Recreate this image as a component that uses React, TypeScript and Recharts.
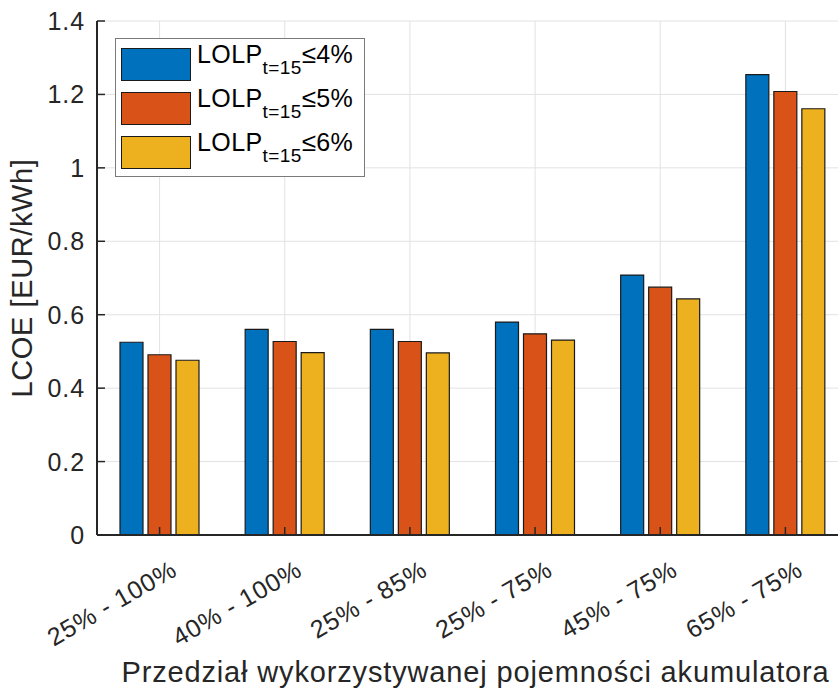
import { BarChart, Bar, XAxis, YAxis, CartesianGrid, Legend } from "recharts";

const categories = ["25% - 100%", "40% - 100%", "25% - 85%", "25% - 75%", "45% - 75%", "65% - 75%"];
const lolp4 = [0.525, 0.56, 0.56, 0.58, 0.708, 1.254];
const lolp5 = [0.491, 0.527, 0.527, 0.548, 0.675, 1.208];
const lolp6 = [0.476, 0.497, 0.496, 0.531, 0.643, 1.161];
const yTicks = [0, 0.2, 0.4, 0.6, 0.8, 1, 1.2, 1.4];
const limits = ["4%", "5%", "6%"];
const seriesKeys = ["lolp4", "lolp5", "lolp6"];
const colors = ["#0072BD", "#D95319", "#EDB120"];

const data = categories.map((c, i) => ({
  name: c,
  lolp4: lolp4[i],
  lolp5: lolp5[i],
  lolp6: lolp6[i],
}));

const FONT = "'Liberation Sans', Arial, sans-serif";
const INK = "#262626";

function YTick({ x, y, payload }: any) {
  return (
    <g>
      <line x1={x} y1={y} x2={x + 8} y2={y} stroke={INK} strokeWidth={1.5} />
      <text
        x={x - 12}
        y={y}
        dy="0.36em"
        textAnchor="end"
        fontSize={25}
        letterSpacing={0.9}
        fill={INK}
        fontFamily={FONT}
      >
        {payload.value}
      </text>
    </g>
  );
}

function XTick({ x, y, payload }: any) {
  return (
    <g>
      <line x1={x} y1={y} x2={x} y2={y - 8} stroke={INK} strokeWidth={1.5} />
      <g transform={`translate(${x + 10},${y + 24}) rotate(-30)`}>
        <text
          x={0}
          y={0}
          dy="0.72em"
          textAnchor="end"
          fontSize={25}
          letterSpacing={0.8}
          fill={INK}
          fontFamily={FONT}
        >
          {payload.value}
        </text>
      </g>
    </g>
  );
}

function TopTick({ x, y }: any) {
  return <line x1={x} y1={y} x2={x} y2={y + 8} stroke={INK} strokeWidth={1.5} />;
}

function LegendBox() {
  return (
    <div
      style={{
        border: "1px solid #7a7a7a",
        background: "#fff",
        width: 250,
        height: 139,
        boxSizing: "border-box",
        fontFamily: FONT,
        color: "#000",
        position: "relative",
      }}
    >
      {limits.map((lim, i) => (
        <div
          key={lim}
          style={{ position: "absolute", left: 5, top: 8 + i * 44, height: 34, display: "flex", alignItems: "center" }}
        >
          <div
            style={{
              width: 70,
              height: 33,
              boxSizing: "border-box",
              background: colors[i],
              border: "1px solid #1a1a1a",
            }}
          />
          <div
            style={{
              marginLeft: 6,
              fontSize: 25,
              letterSpacing: 0.4,
              whiteSpace: "nowrap",
              lineHeight: "25px",
              marginTop: -6,
            }}
          >
            LOLP
            <sub style={{ fontSize: 19, verticalAlign: "-11px" }}>t=15</sub>
            <span style={{ fontSize: 26 }}>≤</span>
            {lim}
          </div>
        </div>
      ))}
    </div>
  );
}

export default function App() {
  return (
    <div
      style={{
        position: "absolute",
        left: 0,
        top: 0,
        width: 838,
        height: 688,
        overflow: "hidden",
        background: "#fff",
      }}
    >
      <BarChart
        width={848}
        height={688}
        data={data}
        margin={{ top: 21, right: 0, bottom: 0, left: 0 }}
        barCategoryGap={23}
        barGap={5}
      >
        <CartesianGrid stroke="#e2e2e2" strokeWidth={1} />
        <XAxis
          dataKey="name"
          height={153}
          tickSize={0}
          tickMargin={0}
          tick={<XTick />}
          interval={0}
          axisLine={{ stroke: INK, strokeWidth: 2 }}
          label={{
            value: "Przedział wykorzystywanej pojemności akumulatora",
            position: "insideBottom",
            offset: 6,
            fontSize: 29,
            letterSpacing: 0.85,
            fill: INK,
            fontFamily: FONT,
            dx: 3,
          }}
        />
        <XAxis
          xAxisId="top"
          orientation="top"
          dataKey="name"
          height={0}
          tickSize={0}
          tickMargin={0}
          tick={<TopTick />}
          interval={0}
          axisLine={{ stroke: INK, strokeWidth: 2 }}
        />
        <YAxis
          width={97}
          domain={[0, 1.4]}
          ticks={yTicks}
          interval={0}
          tickSize={0}
          tickMargin={0}
          tick={<YTick />}
          axisLine={{ stroke: INK, strokeWidth: 2 }}
          label={{
            value: "LCOE [EUR/kWh]",
            angle: -90,
            position: "insideLeft",
            offset: 0,
            dx: 22,
            fontSize: 29,
            letterSpacing: 0.6,
            fill: INK,
            fontFamily: FONT,
            style: { textAnchor: "middle" },
          }}
        />
        <Legend
          layout="vertical"
          align="center"
          verticalAlign="middle"
          content={<LegendBox />}
          wrapperStyle={{ left: 115, top: 38, width: 250, height: 139 }}
        />
        {seriesKeys.map((k, i) => (
          <Bar
            key={k}
            dataKey={k}
            fill={colors[i]}
            stroke="#1a1a1a"
            strokeWidth={1.2}
            isAnimationActive={false}
          />
        ))}
      </BarChart>
    </div>
  );
}
